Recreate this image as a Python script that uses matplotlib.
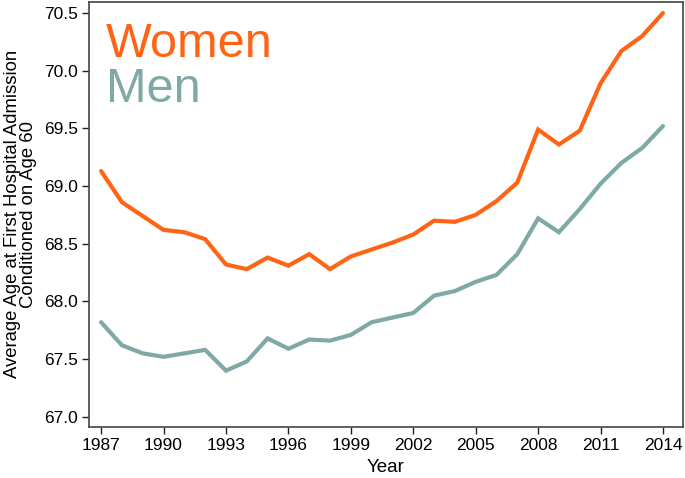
import matplotlib
matplotlib.use("Agg")
import matplotlib.pyplot as plt

plt.rcParams['font.family'] = ['Liberation Sans', 'DejaVu Sans']

years = list(range(1987, 2015))
women = [69.13, 68.86, 68.74, 68.62, 68.60, 68.54, 68.32, 68.28, 68.38, 68.31,
         68.41, 68.28, 68.39, 68.45, 68.51, 68.58, 68.70, 68.69, 68.75, 68.87,
         69.03, 69.49, 69.36, 69.48, 69.89, 70.17, 70.30, 70.50]
men = [67.82, 67.62, 67.55, 67.52, 67.55, 67.58, 67.40, 67.48, 67.68, 67.59,
       67.67, 67.66, 67.71, 67.82, 67.86, 67.90, 68.05, 68.09, 68.17, 68.23,
       68.41, 68.72, 68.60, 68.80, 69.02, 69.20, 69.33, 69.52]
xticks = list(range(1987, 2015, 3))
yticks = [67.0, 67.5, 68.0, 68.5, 69.0, 69.5, 70.0, 70.5]

c_women = '#FF6414'
c_men = '#7FA9A4'

fig = plt.figure(figsize=(6.85, 4.78), dpi=100)
ax = fig.add_axes([0.130, 0.107, 0.867, 0.889])
ax.plot(years, women, color=c_women, lw=3.0, solid_capstyle='round', solid_joinstyle='miter')
ax.plot(years, men, color=c_men, lw=3.0, solid_capstyle='round', solid_joinstyle='miter')

ax.set_xlim(1986.42, 2014.96)
ax.set_ylim(66.913, 70.596)
ax.set_xticks(xticks)
ax.set_yticks(yticks)
ax.set_yticklabels([f"{v:.1f}" for v in yticks])
ax.tick_params(axis='both', direction='out', length=5, width=1, labelsize=12.5, color='#222222', pad=3)
for s in ax.spines.values():
    s.set_color('#444444')
    s.set_linewidth(1.2)

ax.set_xlabel('Year', fontsize=13.5, labelpad=4)
ax.set_ylabel('Average Age at First Hospital Admission\nConditioned on Age 60', fontsize=13.3,
              linespacing=0.9, labelpad=5)

ax.text(0.029, 0.953, 'Women', transform=ax.transAxes, color=c_women, fontsize=35,
        va='top', ha='left')
ax.text(0.029, 0.846, 'Men', transform=ax.transAxes, color=c_men, fontsize=35,
        va='top', ha='left')

fig.savefig('out.png', dpi=100)
